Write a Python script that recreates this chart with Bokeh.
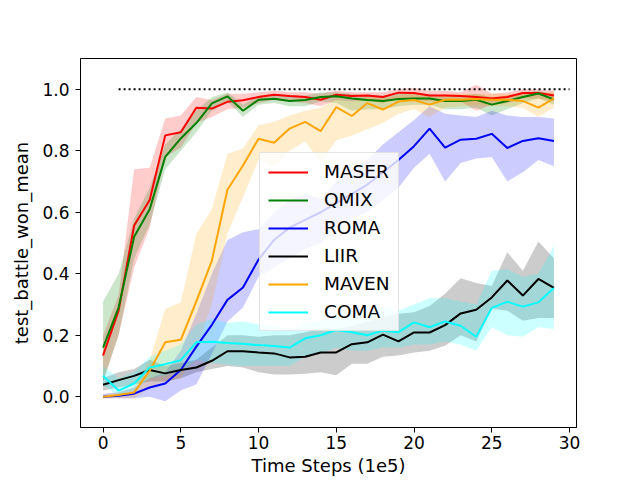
from bokeh.plotting import figure
from bokeh.models import (ColumnDataSource, Range1d, FixedTicker, PrintfTickFormatter,
                          Legend, LegendItem)
from bokeh.embed import file_html
from bokeh.resources import INLINE

steps = list(range(30))

maser_mean = [0.134, 0.28, 0.557, 0.64, 0.85, 0.86, 0.94, 0.937, 0.959, 0.964, 0.975, 0.982, 0.978, 0.975, 0.966,
              0.982, 0.978, 0.98, 0.975, 0.989, 0.988, 0.98, 0.98, 0.978, 0.975, 0.97, 0.975, 0.988, 0.988, 0.98]
maser_hi = [0.2, 0.33, 0.74, 0.745, 0.905, 0.915, 0.975, 0.965, 0.985, 0.985, 0.99, 0.995, 0.99, 0.99, 0.985,
            0.995, 0.99, 0.99, 0.99, 1.0, 1.005, 0.995, 0.995, 0.99, 1.015, 0.985, 0.99, 1.0, 1.0, 0.995]
maser_lo = [0.05, 0.2, 0.42, 0.55, 0.78, 0.81, 0.89, 0.91, 0.935, 0.94, 0.955, 0.965, 0.96, 0.955, 0.945,
            0.965, 0.96, 0.965, 0.955, 0.97, 0.965, 0.96, 0.96, 0.96, 0.93, 0.95, 0.955, 0.97, 0.97, 0.96]

qmix_mean = [0.16, 0.29, 0.52, 0.61, 0.78, 0.84, 0.89, 0.954, 0.977, 0.93, 0.966, 0.969, 0.962, 0.965, 0.975,
             0.977, 0.97, 0.965, 0.962, 0.968, 0.97, 0.97, 0.962, 0.962, 0.966, 0.95, 0.962, 0.975, 0.986, 0.967]
qmix_hi = [0.31, 0.40, 0.58, 0.68, 0.82, 0.87, 0.93, 0.975, 0.99, 0.95, 0.98, 0.985, 0.98, 0.98, 0.99,
           0.99, 0.985, 0.98, 0.98, 0.985, 0.985, 0.985, 0.98, 0.98, 0.985, 0.975, 0.98, 0.99, 0.995, 0.985]
qmix_lo = [0.05, 0.2, 0.45, 0.56, 0.74, 0.80, 0.86, 0.93, 0.96, 0.91, 0.95, 0.955, 0.945, 0.945, 0.96,
           0.955, 0.93, 0.935, 0.935, 0.945, 0.95, 0.95, 0.935, 0.935, 0.94, 0.915, 0.935, 0.955, 0.97, 0.95]

roma_mean = [0.0, 0.003, 0.01, 0.03, 0.043, 0.087, 0.163, 0.234, 0.315, 0.355, 0.446, 0.51, 0.55, 0.575, 0.60,
             0.63, 0.66, 0.69, 0.73, 0.77, 0.815, 0.872, 0.81, 0.836, 0.839, 0.855, 0.809, 0.832, 0.841, 0.832]
roma_hi = [0.01, 0.015, 0.03, 0.06, 0.08, 0.15, 0.27, 0.40, 0.51, 0.535, 0.545, 0.60, 0.64, 0.66, 0.645,
           0.70, 0.74, 0.77, 0.82, 0.86, 0.90, 0.945, 0.92, 0.915, 0.91, 0.93, 0.915, 0.91, 0.91, 0.905]
roma_lo = [-0.005, -0.005, -0.005, 0.0, -0.015, 0.02, 0.04, 0.14, 0.245, 0.29, 0.39, 0.42, 0.45, 0.48, 0.50,
           0.55, 0.58, 0.60, 0.64, 0.68, 0.745, 0.79, 0.70, 0.76, 0.775, 0.78, 0.70, 0.73, 0.77, 0.75]

liir_mean = [0.039, 0.054, 0.068, 0.087, 0.076, 0.087, 0.095, 0.117, 0.148, 0.148, 0.144, 0.141, 0.128, 0.13, 0.144,
             0.144, 0.171, 0.177, 0.202, 0.18, 0.209, 0.209, 0.233, 0.271, 0.283, 0.323, 0.378, 0.329, 0.383, 0.354]
liir_hi = [0.06, 0.08, 0.09, 0.12, 0.10, 0.11, 0.12, 0.16, 0.2, 0.2, 0.195, 0.2, 0.2, 0.21, 0.22,
           0.22, 0.23, 0.245, 0.26, 0.27, 0.275, 0.295, 0.335, 0.385, 0.37, 0.36, 0.47, 0.41, 0.505, 0.45]
liir_lo = [0.02, 0.03, 0.04, 0.05, 0.05, 0.06, 0.08, 0.09, 0.1, 0.095, 0.08, 0.072, 0.072, 0.075, 0.08,
           0.07, 0.107, 0.107, 0.13, 0.134, 0.144, 0.15, 0.166, 0.2, 0.18, 0.287, 0.28, 0.247, 0.256, 0.256]

maven_mean = [0.0, 0.006, 0.014, 0.085, 0.177, 0.185, 0.31, 0.443, 0.673, 0.752, 0.839, 0.826, 0.872, 0.894, 0.864,
              0.942, 0.913, 0.955, 0.934, 0.96, 0.965, 0.95, 0.966, 0.966, 0.968, 0.966, 0.966, 0.962, 0.94, 0.97]
maven_hi = [0.005, 0.015, 0.03, 0.12, 0.285, 0.307, 0.53, 0.61, 0.79, 0.807, 0.883, 0.894, 0.915, 0.93, 0.94,
            0.97, 0.96, 0.975, 0.97, 0.98, 0.985, 0.98, 0.985, 0.985, 0.985, 0.985, 0.985, 0.985, 0.98, 0.995]
maven_lo = [-0.005, -0.005, -0.005, 0.03, 0.05, 0.06, 0.16, 0.30, 0.53, 0.65, 0.77, 0.75, 0.80, 0.83, 0.763,
            0.834, 0.85, 0.87, 0.89, 0.92, 0.935, 0.91, 0.94, 0.945, 0.95, 0.945, 0.945, 0.94, 0.91, 0.94]

coma_mean = [0.068, 0.02, 0.043, 0.095, 0.106, 0.119, 0.177, 0.179, 0.175, 0.172, 0.168, 0.165, 0.16, 0.19, 0.2,
             0.217, 0.21, 0.2, 0.215, 0.21, 0.242, 0.226, 0.245, 0.231, 0.195, 0.289, 0.309, 0.293, 0.307, 0.354]
coma_hi = [0.1, 0.06, 0.08, 0.13, 0.15, 0.17, 0.235, 0.254, 0.24, 0.245, 0.235, 0.23, 0.22, 0.24, 0.25,
           0.27, 0.28, 0.275, 0.29, 0.28, 0.30, 0.32, 0.32, 0.31, 0.30, 0.41, 0.415, 0.39, 0.40, 0.49]
coma_lo = [0.04, 0.0, 0.02, 0.06, 0.07, 0.08, 0.12, 0.11, 0.105, 0.1, 0.1, 0.1, 0.1, 0.13, 0.14,
           0.16, 0.15, 0.15, 0.16, 0.16, 0.17, 0.17, 0.18, 0.17, 0.15, 0.226, 0.2, 0.195, 0.226, 0.22]

target_x = [1, 30]
target_y = [1.0, 1.0]

names = ["MASER", "QMIX", "ROMA", "LIIR", "MAVEN", "COMA"]
colors = ["red", "green", "blue", "black", "orange", "cyan"]
means = [maser_mean, qmix_mean, roma_mean, liir_mean, maven_mean, coma_mean]
his = [maser_hi, qmix_hi, roma_hi, liir_hi, maven_hi, coma_hi]
los = [maser_lo, qmix_lo, roma_lo, liir_lo, maven_lo, coma_lo]

x_ticks = [0, 5, 10, 15, 20, 25, 30]
y_ticks = [0.0, 0.2, 0.4, 0.6, 0.8, 1.0]

FONT = "DejaVu Sans"

p = figure(width=632, height=478, output_backend="svg", toolbar_location=None,
           x_range=Range1d(-1.45, 30.45), y_range=Range1d(-0.1, 1.1),
           min_border_left=80, min_border_right=56, min_border_top=58, min_border_bottom=51)
p.grid.visible = False
p.outline_line_color = "black"
p.outline_line_width = 1
p.outline_line_alpha = 1
p.background_fill_color = "white"
p.border_fill_color = "white"

# bands first (matplotlib draws collections below lines)
for name, c, lo, hi in zip(names, colors, los, his):
    src = ColumnDataSource(dict(x=steps, lo=lo, hi=hi))
    p.varea(x="x", y1="lo", y2="hi", source=src, fill_color=c, fill_alpha=0.2)

items = []
for name, c, m in zip(names, colors, means):
    src = ColumnDataSource(dict(x=steps, y=m))
    r = p.line(x="x", y="y", source=src, line_color=c, line_width=2)
    items.append(LegendItem(label=name, renderers=[r]))

p.line(x=target_x, y=target_y, line_color="black", line_width=2, line_dash="2 3")

legend = Legend(items=items, location=(179, 96), margin=0, padding=8,
                spacing=7, glyph_width=40, glyph_height=20, label_height=20,
                label_standoff=16, label_text_font=FONT, label_text_font_size="18.5px",
                label_text_color="black", border_line_color="#cccccc", border_line_width=1,
                background_fill_color="white", background_fill_alpha=0.8)
p.add_layout(legend, "center")

p.xaxis.ticker = FixedTicker(ticks=x_ticks)
p.yaxis.ticker = FixedTicker(ticks=y_ticks)
p.xaxis.formatter = PrintfTickFormatter(format="%d")
p.yaxis.formatter = PrintfTickFormatter(format="%.1f")
p.xaxis.axis_label = "Time Steps (1e5)"
p.yaxis.axis_label = "test_battle_won_mean"
for ax in (p.xaxis, p.yaxis):
    ax.axis_line_color = "black"
    ax.axis_line_width = 1
    ax.major_tick_line_color = "black"
    ax.major_tick_line_width = 1
    ax.major_tick_out = 5
    ax.major_tick_in = 0
    ax.minor_tick_line_color = None
    ax.major_label_text_font = FONT
    ax.major_label_text_font_size = "17px"
    ax.major_label_text_color = "black"
    ax.axis_label_text_font = FONT
    ax.axis_label_text_font_size = "18px"
    ax.axis_label_text_font_style = "normal"
    ax.axis_label_text_color = "black"
p.xaxis.major_label_standoff = 3
p.xaxis.axis_label_standoff = 3
p.yaxis.major_label_standoff = 6
p.yaxis.axis_label_standoff = 7

open("out.html", "w").write(file_html(p, INLINE))
